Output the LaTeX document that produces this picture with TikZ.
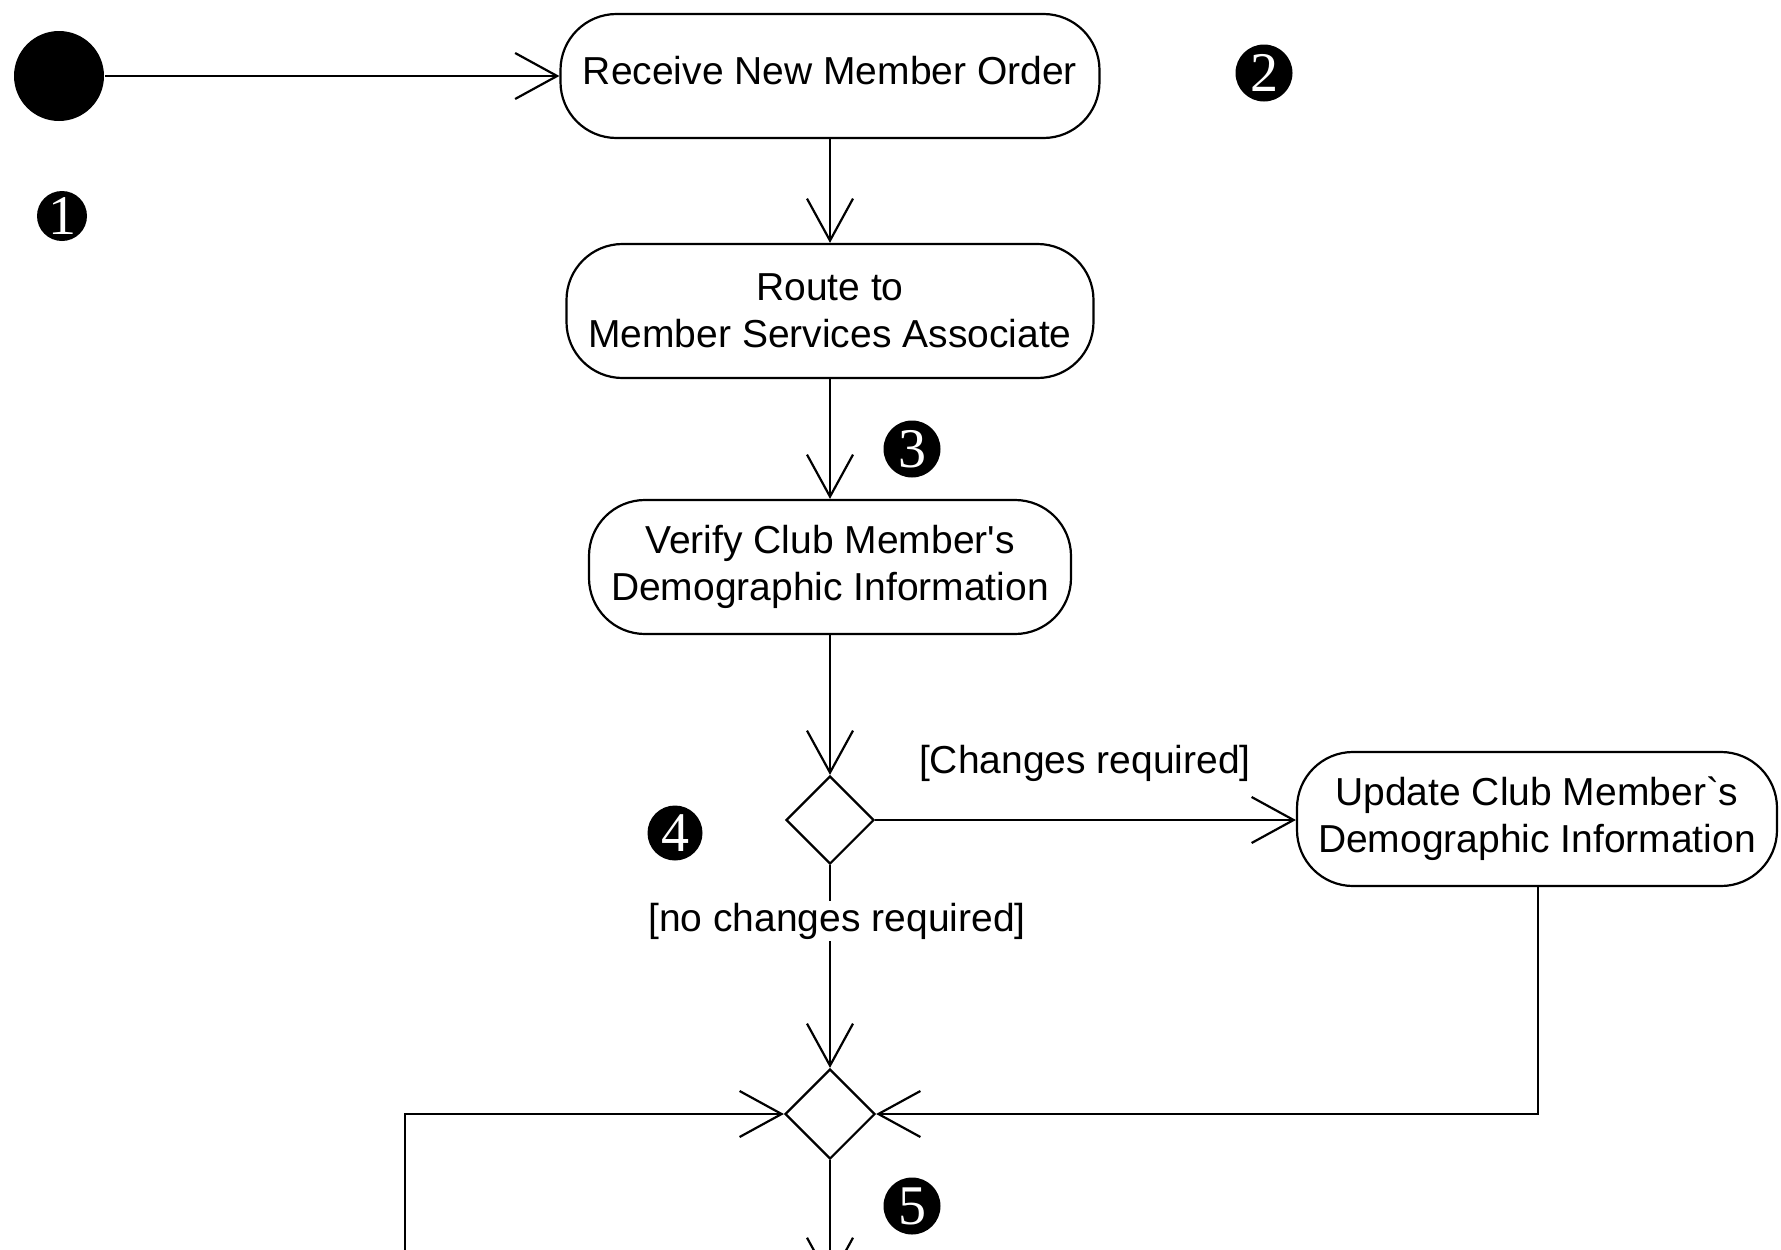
\documentclass[tikz,border=0pt]{standalone}
\usepackage{fontspec}
\setmainfont{Liberation Sans}[Ligatures=TeXOff]
\newfontfamily\digitfont{Liberation Serif}
\usetikzlibrary{arrows.meta,shapes.geometric}

\begin{document}
\begin{tikzpicture}[x=1pt,y=-1pt,
  line width=2.2pt,
  every node/.style={font=\fontsize{39}{47}\selectfont},
  activity/.style={draw, rectangle, rounded corners=56pt, align=center,
    inner sep=0pt, line width=2.2pt},
  decision/.style={draw, diamond, aspect=1, inner sep=0pt,
    minimum width=88pt, minimum height=88pt, line width=2.2pt},
  marker/.style={circle, fill=black, inner sep=0pt, minimum size=#1,
    text=white, font=\digitfont\fontsize{56}{56}\selectfont},
  guard/.style={inner sep=2pt},
  flow/.style={-{Straight Barb[length=42pt,width=46pt,line width=2.2pt]}}
]
% page area
\clip (0,0) rectangle (1781,1250);
\fill[white] (0,0) rectangle (1781,1250);

% initial state
\node[circle, fill=black, minimum size=90pt, inner sep=0pt] (init) at (59,76) {};

% activities
\node[activity, minimum width=539pt, minimum height=124pt, text depth=12pt] (recv) at (830,76)
  {Receive New Member Order};
\node[activity, minimum width=527pt, minimum height=134pt] (route) at (830,311)
  {Route to\\Member Services Associate};
\node[activity, minimum width=482pt, minimum height=134pt] (verify) at (830,567)
  {Verify Club Member's\\Demographic Information};
\node[activity, minimum width=480pt, minimum height=134pt] (update) at (1537,819)
  {Update Club Member`s\\Demographic Information};

% decision and merge
\node[decision] (dec) at (830,820) {};
\node[decision, minimum width=90pt, minimum height=90pt] (merge) at (830,1114) {};

% loose ends of flows leaving the page
\coordinate (out) at (830,1282);
\coordinate (back) at (405,1260);

% flows
\draw[flow] (init) -- (recv);
\draw[flow] (recv) -- (route);
\draw[flow] (route) -- (verify);
\draw[flow] (verify) -- (dec);
\draw[flow] (dec.east) -- (update.west |- dec.east);
\draw[flow] (dec.south) -- (merge.north);
\draw[flow] (update.south -| 1538,0) |- (merge.east);
\draw[flow] (back) |- (merge.west);
\draw[flow] (merge.south) -- (out);

% guards
\node[guard] (gyes) at (1085,763) {[Changes required]};
\node[guard, fill=white] (gno) at (837,921) {[no changes required]};

% numbered markers
\node[marker=50pt] (m1) at (62,216) {1};
\node[marker=57pt] (m2) at (1264,73) {2};
\node[marker=57pt] (m3) at (912,449) {3};
\node[marker=55pt] (m4) at (675,833) {4};
\node[marker=57pt] (m5) at (912,1206) {5};
\end{tikzpicture}
\end{document}
